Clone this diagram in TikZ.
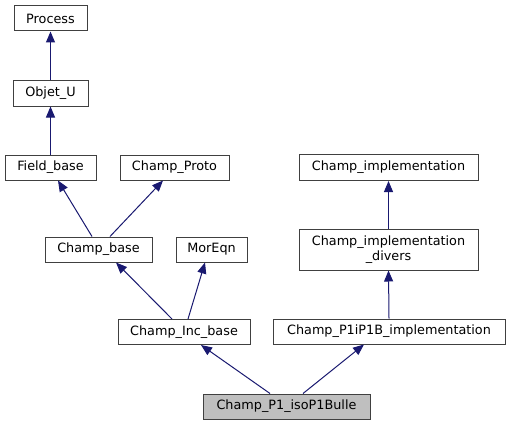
\documentclass[tikz,border=0pt]{standalone}
\usepackage{fontspec}
\setmainfont{DejaVu Sans}
\usetikzlibrary{arrows.meta}
\definecolor{edgeblue}{HTML}{191970}
\definecolor{boxline}{HTML}{404040}
\definecolor{boxfill}{HTML}{BFBFBF}
\begin{document}
\begin{tikzpicture}[x=1pt,y=-1pt]
      \useasboundingbox (0,0) rectangle (510,425);

      \begin{scope}[every node/.style={draw=boxline,line width=1pt,inner sep=0pt,
          minimum height=25pt,align=center,font=\fontsize{12.8}{15}\selectfont}]
        \node[minimum width=73pt]  (proc)    at (50.5,18.5)  {Process};
        \node[minimum width=75pt]  (obj)     at (50.5,93.5)  {Objet\_U};
        \node[minimum width=91pt]  (field)   at (50.5,167.5) {Field\_base};
        \node[minimum width=109pt] (proto)   at (174.5,167.5) {Champ\_Proto};
        \node[minimum width=107pt] (cbase)   at (98.5,249.5) {Champ\_base};
        \node[minimum width=71pt]  (moreqn)  at (211.5,249.5) {MorEqn};
        \node[minimum width=132pt] (incbase) at (184,332)    {Champ\_Inc\_base};
        \node[minimum width=179pt,minimum height=26pt] (impl) at (388.5,167.5) {Champ\_implementation};
        \node[minimum width=179pt,minimum height=41pt] (divers) at (388.5,249.5) {Champ\_implementation\\\_divers};
        \node[minimum width=232pt] (p1ip1b)  at (389,331.5)  {Champ\_P1iP1B\_implementation};
        \node[minimum width=167pt,fill=boxfill] (bulle) at (286.5,406.5) {Champ\_P1\_isoP1Bulle};
      \end{scope}

      \begin{scope}[every path/.style={draw=edgeblue,line width=1pt,
          -{Triangle[length=11pt,width=9pt]}}]
        \path (obj.north) -- (proc.south);
        \path (field.north) -- (obj.south);
        \path ([xshift=-6.5pt]cbase.north) -- ([xshift=7.5pt]field.south);
        \path ([xshift=11.5pt]cbase.north) -- ([xshift=-11.5pt]proto.south);
        \path ([xshift=-12pt]incbase.north) -- ([xshift=17.5pt]cbase.south);
        \path ([xshift=4pt]incbase.north) -- ([xshift=-6.5pt]moreqn.south);
        \path (divers.north) -- (impl.south);
        \path (p1ip1b.north) -- (divers.south);
        \path ([xshift=-16.5pt]bulle.north) -- ([xshift=17pt]incbase.south);
        \path ([xshift=16.5pt]bulle.north) -- ([xshift=-25pt]p1ip1b.south);
      \end{scope}

    \end{tikzpicture}
\end{document}
